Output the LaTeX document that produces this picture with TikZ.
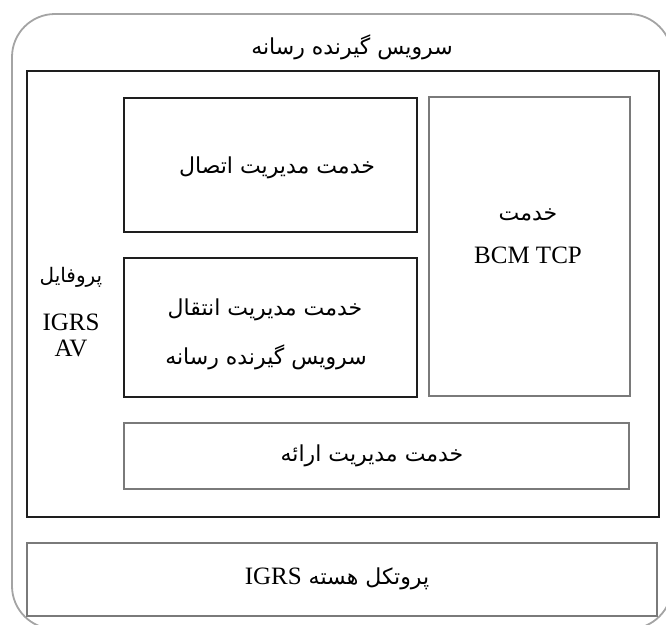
\documentclass[tikz,border=0pt]{standalone}
\usepackage{fontspec}
\setmainfont{Liberation Serif}
\newfontfamily\farsi[Script=Arabic]{DejaVu Sans}
\TeXXeTstate=1
\usetikzlibrary{positioning}
\definecolor{BoxInk}{HTML}{1E1E1E}
\definecolor{FrameInk}{HTML}{A4A4A4}
\definecolor{SoftInk}{HTML}{7A7A7A}
\newcommand{\fa}[1]{{\farsi\beginR #1\endR}}

\begin{document}
\begin{tikzpicture}[x=1pt, y=-1pt,
  box/.style={draw=BoxInk, line width=1.3pt, inner sep=0pt},
  softbox/.style={draw=SoftInk, line width=1.8pt, inner sep=0pt},
  fatext/.style={font=\fontsize{22}{26}\selectfont, inner sep=0pt},
  latext/.style={font=\fontsize{25}{28}\selectfont, inner sep=0pt}]
\useasboundingbox (0,0) rectangle (666,624);

% outer frame, cut off at the right and bottom
\draw[FrameInk, line width=1.8pt, rounded corners=43pt] (12,14) rectangle (672,629);

% media client service area
\node[box, minimum width=632pt, minimum height=446pt] (client) at (343,294) {};
\node[fatext, fill=white, minimum width=217pt, minimum height=30pt] (title) at (352,47)
  {\fa{سرویس گیرنده رسانه}};

% services inside the profile
\node[box, minimum width=293pt, minimum height=134pt] (conn) at (270.5,165) {};
\node[fatext] (conntxt) at (277,168) {\fa{خدمت مدیریت اتصال}};

\node[box, minimum width=293pt, minimum height=139pt] (trans) at (270.5,327.5) {};
\node[fatext] (transa) at (265,310) {\fa{خدمت مدیریت انتقال}};
\node[fatext] (transb) at (266,357) {\fa{سرویس گیرنده رسانه}};

\node[softbox, minimum width=201pt, minimum height=299pt] (bcm) at (529.5,246.5) {};
\node[fatext] (bcma) at (528,215) {\fa{خدمت}};
\node[latext] (bcmb) at (528,255) {BCM TCP};

\node[softbox, minimum width=505pt, minimum height=66pt] (pres) at (376.5,456) {};
\node[fatext] (prestxt) at (372,456) {\fa{خدمت مدیریت ارائه}};

% profile name on the left
\node[fatext, font=\fontsize{20}{24}\selectfont] (profa) at (71,277) {\fa{پروفایل}};
\node[latext] (profb) at (71,322) {IGRS};
\node[latext] (profc) at (71,348) {AV};

% core protocol
\node[softbox, minimum width=630pt, minimum height=73pt] (core) at (342,579.5) {};
\node[fatext] (coretxt) at (337,579)
  {\fa{پروتکل هسته \beginL{\rmfamily\fontsize{25}{28}\selectfont IGRS}\endL}};
\end{tikzpicture}
\end{document}
